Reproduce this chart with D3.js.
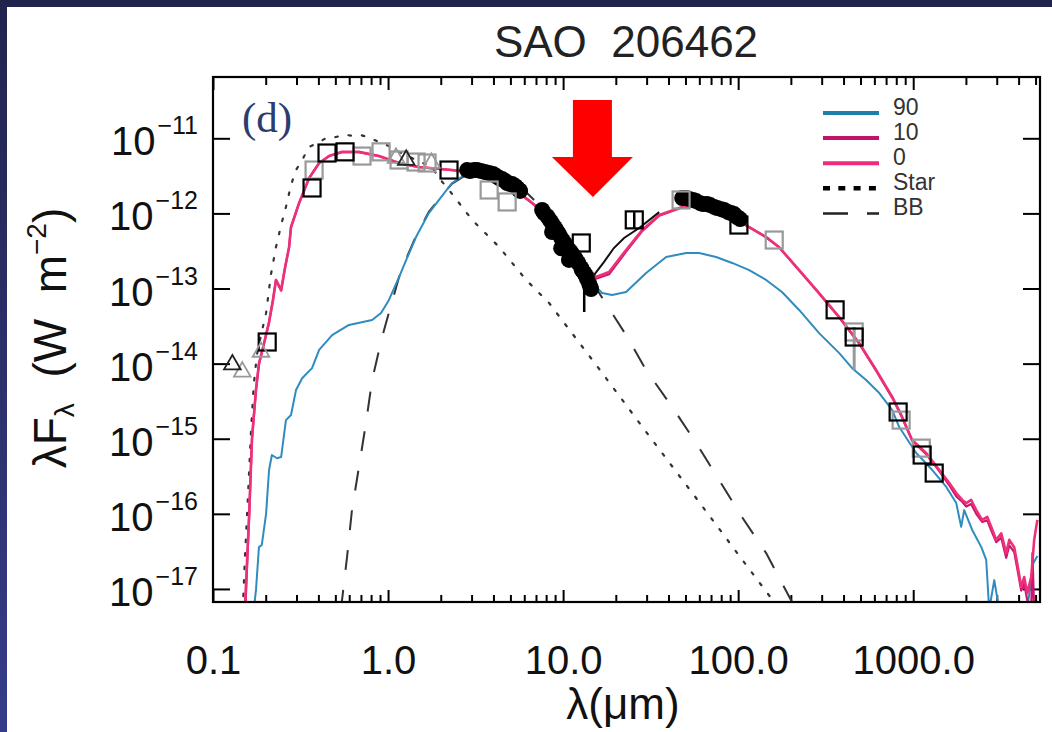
<!DOCTYPE html>
<html><head><meta charset="utf-8">
<script src="https://cdn.jsdelivr.net/npm/d3@7"></script>
<style>
body{margin:0;background:#fff;}
svg{display:block;}
text{font-family:"Liberation Sans",Arial,Helvetica,sans-serif;}
</style>
</head><body>
<svg id="chart" width="1052" height="732"></svg>
<script>
// ---------------- data ----------------
const titleText = "SAO  206462";
const xTickValues = [0.1, 1, 10, 100, 1000];
const xTickLabels = ["0.1", "1.0", "10.0", "100.0", "1000.0"];
const yTickExponents = [-11, -12, -13, -14, -15, -16, -17];
const xDomain = [0.1, 5300];
const yDomain = [6.7e-18, 6.55e-11];

// model SED, inclination 0 deg  [lambda (um), lambda*F_lambda (W m^-2)]
const model0 = [
  [0.152,5.3e-18],[0.161,1.0e-16],[0.167,1.0e-15],[0.176,4.5e-15],[0.183,1.0e-14],[0.195,1.8e-14],
  [0.209,3.6e-14],[0.220,7.0e-14],[0.229,1.3e-13],[0.245,9.5e-14],[0.258,1.9e-13],[0.272,3.57e-13],
  [0.279,6.6e-13],[0.310,1.37e-12],[0.354,2.96e-12],[0.404,4.69e-12],[0.460,5.8e-12],[0.546,6.6e-12],
  [0.682,6.6e-12],[0.889,5.8e-12],[1.156,4.69e-12],[1.50,4.15e-12],[2.32,3.78e-12],[2.90,3.56e-12],
  [3.78,2.96e-12],[4.60,2.39e-12],[5.61,1.87e-12],[6.65,1.38e-12],[8.32,8.95e-13],[10.4,4.85e-13],
  [12.8,2.4e-13],[15.4,1.42e-13],[18.3,1.66e-13],[22.9,3.26e-13],[28.3,6.0e-13],[35.4,9.5e-13],
  [47.9,1.22e-12],[59.8,1.26e-12],[74.8,1.11e-12],[92.4,8.95e-13],[115.6,6.59e-13],[144.5,4.85e-13],
  [171,3.57e-13],[223,1.76e-13],[290,8.7e-14],[378,4.17e-14],[491,1.88e-14],[615,8.2e-15],
  [759,3.6e-15],[865,1.95e-15],[986,9.6e-16],[1186,6.46e-16],[1409,3.83e-16],[1607,2.57e-16],
  [1762,1.89e-16],[1905,1.53e-16],[2009,1.39e-16],[2143,1.53e-16],[2291,1.12e-16],[2477,8.3e-17],
  [2648,9.1e-17],[2793,6.7e-17],[2979,4.5e-17],[3184,5.5e-17],[3397,3.0e-17],[3540,4.5e-17],
  [3776,3.6e-17],[3926,2.2e-17],[4140,1.06e-17],[4305,1.44e-17],[4477,8.8e-18],[4721,1.44e-17],
  [4909,4.5e-17],[5117,8.3e-17]
];
// model SED, inclination 10 deg
const model10 = [
  [0.153,5.3e-18],[0.161,1.0e-16],[0.167,1.0e-15],[0.176,4.4e-15],[0.183,9.8e-15],[0.195,1.8e-14],
  [0.209,3.5e-14],[0.220,7.0e-14],[0.229,1.3e-13],[0.245,9.4e-14],[0.258,1.9e-13],[0.272,3.5e-13],
  [0.279,6.5e-13],[0.310,1.36e-12],[0.354,2.95e-12],[0.404,4.67e-12],[0.460,5.8e-12],[0.546,6.55e-12],
  [0.682,6.55e-12],[0.889,5.78e-12],[1.156,4.67e-12],[1.50,4.13e-12],[2.32,3.77e-12],[2.90,3.55e-12],
  [3.78,2.95e-12],[4.60,2.38e-12],[5.61,1.86e-12],[6.65,1.37e-12],[8.32,8.9e-13],[10.4,4.8e-13],
  [12.8,2.35e-13],[15.4,1.35e-13],[18.3,1.55e-13],[22.9,3.1e-13],[28.3,5.8e-13],[35.4,9.3e-13],
  [47.9,1.2e-12],[59.8,1.25e-12],[74.8,1.1e-12],[92.4,8.9e-13],[115.6,6.55e-13],[144.5,4.8e-13],
  [171,3.55e-13],[223,1.75e-13],[290,8.6e-14],[378,4.1e-14],[491,1.85e-14],[615,8.0e-15],
  [759,3.5e-15],[865,1.9e-15],[986,9.4e-16],[1186,6.2e-16],[1409,3.7e-16],[1607,2.4e-16],
  [1762,1.7e-16],[1905,1.45e-16],[2009,1.25e-16],[2143,1.35e-16],[2291,1.0e-16],[2477,7.8e-17],
  [2648,8.2e-17],[2793,6.0e-17],[2979,4.2e-17],[3184,4.8e-17],[3397,2.6e-17],[3540,3.8e-17],
  [3776,3.1e-17],[3926,1.9e-17],[4140,9.5e-18],[4305,1.2e-17],[4600,5.0e-18],[4721,5.0e-18],
  [4800,3.0e-17],[4909,5.0e-18]
];
// model SED, inclination 90 deg
const model90 = [
  [0.171,5.3e-18],[0.176,9.7e-18],[0.183,3.6e-17],[0.190,3.85e-17],[0.201,1.0e-16],[0.209,3.83e-16],
  [0.217,6.07e-16],[0.232,5.5e-16],[0.245,5.7e-16],[0.261,1.77e-15],[0.279,2.07e-15],[0.298,4.45e-15],
  [0.323,6.4e-15],[0.368,8.7e-15],[0.404,1.52e-14],[0.479,2.4e-14],[0.598,3.27e-14],[0.811,3.8e-14],
  [0.912,4.72e-14],[1.01,7.0e-14],[1.156,1.42e-13],[1.27,2.4e-13],[1.445,4.85e-13],[1.71,1.01e-12],
  [1.955,1.51e-12],[2.32,2.54e-12],[2.79,3.35e-12],[3.78,2.96e-12],[4.60,2.39e-12],[5.61,1.87e-12],
  [6.65,1.38e-12],[8.32,8.95e-13],[10.4,4.85e-13],[12.8,2.25e-13],[14.7,1.18e-13],[16.7,8.7e-14],
  [19.05,8.2e-14],[22.9,9.0e-14],[29.8,1.61e-13],[38.8,2.63e-13],[50.5,2.97e-13],[59.8,2.97e-13],
  [74.8,2.63e-13],[92.4,2.19e-13],[115.6,1.76e-13],[144.5,1.3e-13],[178,9.0e-14],[223,5.18e-14],
  [290,2.55e-14],[378,1.38e-14],[448,8.7e-15],[538,6.05e-15],[640,4.06e-15],[759,2.41e-15],
  [832,1.43e-15],[1040,6.46e-16],[1285,3.83e-16],[1545,2.28e-16],[1762,1.39e-16],[1879,6.7e-17],
  [1955,1.12e-16],[2173,6.1e-17],[2449,3.6e-17],[2612,2.43e-17],[2716,5.3e-18],[2904,1.31e-17],
  [3097,5.3e-18],[4477,5.3e-18],[4853,2.2e-17],[5117,2.74e-17]
];
// stellar photosphere
const starModel = [
  [0.148,5.3e-18],[0.152,2.43e-17],[0.158,1.53e-16],[0.165,1.31e-15],[0.171,5.2e-15],[0.178,1.3e-14],
  [0.188,2.4e-14],[0.201,4.7e-14],[0.214,1.51e-13],[0.229,3.57e-13],[0.245,7.0e-13],[0.261,1.22e-12],
  [0.279,2.39e-12],[0.298,3.78e-12],[0.323,5.14e-12],[0.354,7.66e-12],[0.393,8.6e-12],[0.443,1.01e-11],
  [0.505,1.04e-11],[0.561,1.12e-11],[0.622,1.08e-11],[0.702,1.1e-11],[0.778,1.02e-11],[0.889,8.9e-12],
  [1.01,7.9e-12],[1.156,6.6e-12],[1.445,5.14e-12],[1.78,4.15e-12],[1.955,2.96e-12],[2.23,2.05e-12],
  [3.02,8.2e-13],[4.31,3.57e-13],[6.15,1.3e-13],[8.32,6.4e-14],[16.07,8.5e-15],[31.0,1.09e-15],
  [59.8,1.44e-16],[115.6,1.84e-17],[171,5.5e-18]
];
// blackbody
const bbModel = [
  [0.538,5.3e-18],[0.583,2.66e-17],[0.622,1.12e-16],[0.682,4.2e-16],[0.748,1.62e-15],[0.811,6.05e-15],
  [0.889,1.52e-14],[0.949,2.8e-14],[1.04,6.0e-14],[1.156,1.42e-13],[1.27,2.5e-13],[1.445,5.0e-13],
  [1.71,1.05e-12],[1.955,1.55e-12],[2.32,2.5e-12],[2.79,3.25e-12],[3.54,3.56e-12],[4.60,3.06e-12],
  [5.98,2.05e-12],[8.32,9.5e-13],[11.56,3.06e-13],[16.07,8.7e-14],[22.9,2.4e-14],[29.8,8.2e-15],
  [42.0,2.64e-15],[57.5,8.8e-16],[77.8,2.82e-16],[105,9.1e-17],[144.5,3.0e-17],[214,5.3e-18]
];
// photometry
const photBlack = [
  [0.204,1.94e-14],[0.368,2.18e-12],[0.448,6.37e-12],[0.568,6.6e-12],[2.23,3.78e-12],[12.7,4.04e-13],
  [25.5,8.2e-13],[101,7.0e-13],[358,5.2e-14],[460,2.26e-14],[820,2.27e-15],[1125,6.07e-16],[1318,3.49e-16]
];
const photGray = [
  [0.378,3.78e-12],[0.71,5.8e-12],[0.912,6.6e-12],[1.156,5.14e-12],[1.445,4.83e-12],[1.67,4.69e-12],
  [3.78,2.05e-12],[4.79,1.42e-12],[47.2,1.51e-12],[160.7,4.42e-13],[460,2.64e-14],[853,1.77e-15],[1112,7.5e-16]
];
const triBlack = [[0.129,9.7e-15],[1.27,5.14e-12]];
const triGray = [[0.147,7.8e-15],[0.188,1.43e-14],[1.11,5.47e-12],[1.77,4.69e-12]];
// spectra (filled circles)
const irsShort = [
  [2.83,3.78e-12],[2.94,3.67e-12],[3.10,3.78e-12],[3.23,3.78e-12],[3.40,3.67e-12],[3.58,3.56e-12],
  [3.78,3.45e-12],[3.98,3.35e-12],[4.14,3.15e-12],[4.31,2.96e-12],[4.48,2.87e-12],[4.67,2.7e-12],
  [4.79,2.54e-12],[4.98,2.46e-12],[5.11,2.47e-12],[5.32,2.32e-12],[5.46,2.18e-12],[5.61,2.05e-12],
  [5.68,1.99e-12]
];
const irsLong = [
  [7.59,1.11e-12],[7.78,1.01e-12],[8.11,9.2e-13],[8.32,8.4e-13],[8.54,7.7e-13],[8.65,5.65e-13],
  [8.77,7.0e-13],[9.0,6.4e-13],[9.24,5.8e-13],[9.48,5.3e-13],[9.75,3.44e-13],[9.75,4.7e-13],
  [10.0,4.3e-13],[10.3,3.9e-13],[10.5,3.57e-13],[10.8,2.4e-13],[10.8,3.26e-13],[11.1,3.06e-13],
  [11.4,2.79e-13],[11.7,2.55e-13],[12.0,2.32e-13],[12.2,2.19e-13],[12.7,1.88e-13],[12.8,1.76e-13],
  [13.2,1.61e-13],[13.5,1.47e-13],[13.7,1.34e-13],[14.1,1.15e-13],[14.3,1.05e-13],[14.45,9.85e-14]
];
const pacsSpec = [
  [47.9,1.6e-12],[50.5,1.6e-12],[52.5,1.56e-12],[55.3,1.51e-12],[57.5,1.46e-12],[60.7,1.37e-12],
  [63.1,1.33e-12],[66.5,1.33e-12],[69.2,1.29e-12],[72.9,1.22e-12],[75.9,1.18e-12],[80.0,1.14e-12],
  [83.2,1.11e-12],[87.7,1.04e-12],[91.2,1.01e-12],[94.8,9.8e-13],[98.6,8.95e-13],[102.6,8.4e-13]
];
const lhSpec = [[15.0,1.51e-13],[17.1,2.25e-13],[19.5,3.46e-13],[22.3,4.7e-13],[27.2,6.4e-13],[35.4,1.04e-12]];
// error bars [lambda, low, high]
const errBlack = [[13.2,4.87e-14,2.06e-13],[25.5,6.4e-13,1.04e-12]];
const errGray = [[460,8.2e-15,3.07e-14]];
// arrow annotation tip
const arrowTip = [14.8, 1.65e-12];

const legendItems = [
  {label:"90",   color:"#1f7fab", dash:null,       width:4},
  {label:"10",   color:"#c2136c", dash:null,       width:4},
  {label:"0",    color:"#ee2c7c", dash:null,       width:4},
  {label:"Star", color:"#000000", dash:"7,8.3",    width:4.5},
  {label:"BB",   color:"#222222", dash:"25,19,12", width:2.5}
];

// ---------------- layout ----------------
const W = 1052, H = 732;
const L = 213, R = 1040, T = 77, B = 602;
const svg = d3.select("#chart");

const defs = svg.append("defs");
const lg = defs.append("linearGradient").attr("id","side").attr("x1",0).attr("y1",0).attr("x2",0).attr("y2",1);
lg.append("stop").attr("offset","0%").attr("stop-color","#22234d");
lg.append("stop").attr("offset","100%").attr("stop-color","#363c88");
defs.append("clipPath").attr("id","plotclip").append("rect")
  .attr("x",L).attr("y",T).attr("width",R-L).attr("height",B-T);

svg.append("rect").attr("width",W).attr("height",H).attr("fill","#fff");
svg.append("rect").attr("x",0).attr("y",0).attr("width",W).attr("height",7).attr("fill","#22234d");
svg.append("rect").attr("x",0).attr("y",0).attr("width",7).attr("height",H).attr("fill","url(#side)");

const x = d3.scaleLog().domain(xDomain).range([L, R]);
const y = d3.scaleLog().domain(yDomain).range([B, T]);

const minorX = [];
for (let d = -1; d <= 3; d++) for (let k = 2; k <= 9; k++) {
  const v = k * Math.pow(10, d);
  if (v < xDomain[1]) minorX.push(v);
}
const yTickValues = yTickExponents.map(e => Math.pow(10, e));

function clean(g){ g.select(".domain").remove(); g.selectAll("line").attr("stroke","#000").attr("stroke-width",2); }

svg.append("g").attr("transform",`translate(0,${B})`)
  .call(d3.axisBottom(x).tickValues(minorX).tickSize(-7).tickFormat("")).call(clean);
const xb = svg.append("g").attr("transform",`translate(0,${B})`)
  .call(d3.axisBottom(x).tickValues(xTickValues).tickSize(-12).tickPadding(44)
    .tickFormat((d,i)=>xTickLabels[i])).call(clean);
xb.selectAll("text").attr("font-size",40).attr("fill","#111")
  .style("font-family","'Liberation Sans',Arial,sans-serif");
svg.append("g").attr("transform",`translate(0,${T})`)
  .call(d3.axisTop(x).tickValues(minorX).tickSize(-8).tickFormat("")).call(clean);
svg.append("g").attr("transform",`translate(0,${T})`)
  .call(d3.axisTop(x).tickValues(xTickValues).tickSize(-13).tickFormat("")).call(clean);
svg.append("g").attr("transform",`translate(${L},0)`)
  .call(d3.axisLeft(y).tickValues(yTickValues).tickSize(-17).tickFormat("")).call(clean);
svg.append("g").attr("transform",`translate(${R},0)`)
  .call(d3.axisRight(y).tickValues(yTickValues).tickSize(-17).tickFormat("")).call(clean);

// y tick labels with superscripts
const yl = svg.append("g");
yTickExponents.forEach(e => {
  const t = yl.append("text").attr("x",198).attr("y",y(Math.pow(10,e))+17)
    .attr("text-anchor","end").attr("fill","#111");
  t.append("tspan").attr("font-size",40).text("10");
  t.append("tspan").attr("font-size",25).attr("dx",2).attr("dy",-21).text("\u2212" + Math.abs(e));
});

// lines
const line = d3.line().x(d=>x(d[0])).y(d=>y(d[1]));
const plot = svg.append("g").attr("clip-path","url(#plotclip)");
plot.append("path").datum(starModel).attr("d",line).attr("fill","none")
  .attr("stroke","#333").attr("stroke-width",2.2).attr("stroke-dasharray","2.5,11").attr("stroke-linecap","round");
plot.append("path").datum(bbModel).attr("d",line).attr("fill","none")
  .attr("stroke","#333").attr("stroke-width",2).attr("stroke-dasharray","20,20");
plot.append("path").datum(model90).attr("d",line).attr("fill","none")
  .attr("stroke","#2f8cc0").attr("stroke-width",2).attr("stroke-linejoin","round");
plot.append("path").datum(model10).attr("d",line).attr("fill","none")
  .attr("stroke","#c9176f").attr("stroke-width",2.2).attr("stroke-linejoin","round");
plot.append("path").datum(model0).attr("d",line).attr("fill","none")
  .attr("stroke","#ee3079").attr("stroke-width",2.6).attr("stroke-linejoin","round");

// spectra
[irsShort, irsLong, pacsSpec].forEach(arr => {
  plot.append("g").selectAll("circle").data(arr).join("circle")
    .attr("cx",d=>x(d[0])).attr("cy",d=>y(d[1])).attr("r",8).attr("fill","#000");
});
plot.append("path").datum(lhSpec).attr("d",line).attr("fill","none").attr("stroke","#111").attr("stroke-width",2);

// error bars
plot.append("g").selectAll("line").data(errBlack).join("line")
  .attr("x1",d=>x(d[0])).attr("x2",d=>x(d[0])).attr("y1",d=>y(d[1])).attr("y2",d=>y(d[2]))
  .attr("stroke","#000").attr("stroke-width",2.5);
plot.append("g").selectAll("line").data(errGray).join("line")
  .attr("x1",d=>x(d[0])).attr("x2",d=>x(d[0])).attr("y1",d=>y(d[1])).attr("y2",d=>y(d[2]))
  .attr("stroke","#999").attr("stroke-width",3);

// photometry squares
const sq = 17;
plot.append("g").selectAll("rect").data(photGray).join("rect")
  .attr("x",d=>x(d[0])-sq/2).attr("y",d=>y(d[1])-sq/2).attr("width",sq).attr("height",sq)
  .attr("fill","none").attr("stroke","#999").attr("stroke-width",2.2);
plot.append("g").selectAll("rect").data(photBlack).join("rect")
  .attr("x",d=>x(d[0])-sq/2).attr("y",d=>y(d[1])-sq/2).attr("width",sq).attr("height",sq)
  .attr("fill","none").attr("stroke","#000").attr("stroke-width",2.2);
const tri = d3.symbol().type(d3.symbolTriangle).size(120);
plot.append("g").selectAll("path").data(triGray).join("path")
  .attr("transform",d=>`translate(${x(d[0])},${y(d[1])})`).attr("d",tri)
  .attr("fill","none").attr("stroke","#999").attr("stroke-width",1.8);
plot.append("g").selectAll("path").data(triBlack).join("path")
  .attr("transform",d=>`translate(${x(d[0])},${y(d[1])})`).attr("d",tri)
  .attr("fill","none").attr("stroke","#222").attr("stroke-width",1.8);

// frame
svg.append("rect").attr("x",L).attr("y",T).attr("width",R-L).attr("height",B-T)
  .attr("fill","none").attr("stroke","#000").attr("stroke-width",2.2);

// red arrow annotation
const ax = x(arrowTip[0]), ay = y(arrowTip[1]);
svg.append("path").attr("fill","#ff0000")
  .attr("d",`M${ax-20},${ay-97} L${ax+19},${ay-97} L${ax+19},${ay-40} L${ax+40},${ay-40} L${ax},${ay} L${ax-41},${ay-40} L${ax-20},${ay-40} Z`);

// panel label
svg.append("text").attr("x",242).attr("y",132).attr("font-size",43)
  .style("font-family","'Liberation Serif','Times New Roman',serif").attr("fill","#2b3c70").text("(d)");

// legend
const leg = svg.append("g");
legendItems.forEach((it,i) => {
  const ly = 113 + i*25.1;
  const l = leg.append("line").attr("x1",823).attr("x2",879).attr("y1",ly).attr("y2",ly)
    .attr("stroke",it.color).attr("stroke-width",it.width);
  if (it.dash) l.attr("stroke-dasharray",it.dash);
  leg.append("text").attr("x",893).attr("y",ly+2).attr("font-size",23).attr("fill","#333").text(it.label);
});

// title and axis titles
svg.append("text").attr("x",626).attr("y",57).attr("text-anchor","middle").attr("font-size",44)
  .attr("fill","#222").style("white-space","pre").text(titleText);
svg.append("text").attr("x",623).attr("y",719).attr("text-anchor","middle").attr("font-size",44)
  .attr("fill","#111").text("\u03bb(\u03bcm)");
const yt = svg.append("text").attr("transform","translate(66,338) rotate(-90)")
  .attr("text-anchor","middle").attr("font-size",46).attr("fill","#111");
yt.append("tspan").text("\u03bbF");
yt.append("tspan").attr("font-size",28).attr("dy",8).text("\u03bb");
yt.append("tspan").attr("dy",-8).style("white-space","pre").text("  (W  m");
yt.append("tspan").attr("font-size",28).attr("dy",-20).text("\u22122");
yt.append("tspan").attr("dy",20).text(")");
</script>
</body></html>
